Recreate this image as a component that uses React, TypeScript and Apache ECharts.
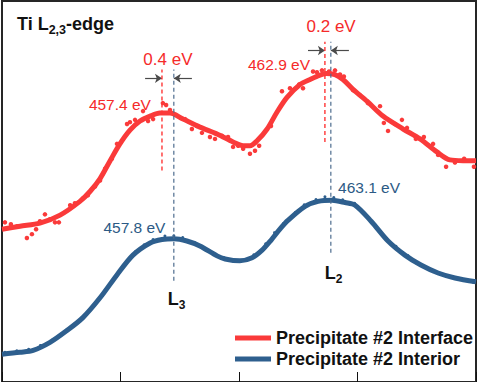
import { useEffect, useRef } from 'react';
import * as echarts from 'echarts';

const FONT = '"Liberation Sans", Arial, Helvetica, sans-serif';
const RED = '#fa3a3a';
const BLUE = '#2e5f8e';
const RED_TEXT = '#f52a2a';
const BLUE_TEXT = '#2c5a85';

const seriesNames = ['Precipitate #2 Interface', 'Precipitate #2 Interior'];

// Energy axis (eV)
const xMin = 452;
const xMax = 468;
const xInterval = 4;

// Interface (red) fitted curve
const interfaceFitE = [452.0, 452.61, 453.28, 453.96, 454.63, 454.97, 455.31, 455.65, 455.98, 456.32, 456.66, 457.0, 457.33, 457.67, 458.11, 458.68, 459.26, 459.8, 460.14, 460.37, 460.61, 460.95, 461.28, 461.62, 462.06, 462.4, 462.63, 462.94, 463.24, 463.51, 463.85, 464.32, 464.86, 465.54, 466.11, 466.68, 467.12, 467.56, 468.0];
const interfaceFitI = [40.1, 40.9, 41.7, 43.8, 47.4, 50.0, 53.4, 58.1, 62.5, 66.1, 68.5, 69.8, 70.6, 70.6, 69.0, 66.9, 65.1, 63.0, 62.0, 62.0, 63.3, 66.4, 70.8, 74.7, 78.1, 79.4, 80.2, 81.0, 80.7, 79.4, 76.8, 73.7, 69.8, 66.4, 63.8, 60.4, 58.3, 58.1, 58.1];

// Interface (red) measured points
const interfaceDotE = [452.1, 452.3, 452.51, 452.84, 453.01, 453.15, 453.28, 453.45, 453.62, 453.79, 453.92, 454.3, 454.46, 454.73, 454.9, 455.14, 455.31, 455.48, 455.71, 455.88, 456.22, 456.32, 456.49, 456.76, 456.93, 457.1, 457.43, 457.54, 457.67, 458.18, 458.41, 458.58, 458.75, 459.02, 459.19, 459.43, 459.63, 459.8, 459.97, 460.14, 460.37, 460.54, 460.68, 461.08, 461.45, 461.72, 462.03, 462.16, 462.5, 462.63, 462.8, 463.04, 463.24, 463.41, 463.54, 463.85, 464.08, 464.35, 464.76, 464.89, 465.03, 465.27, 465.5, 465.67, 465.97, 466.24, 466.55, 466.72, 466.99, 467.29, 467.6, 467.93];
const interfaceDotI = [41.9, 41.4, 40.9, 37.8, 38.8, 40.1, 42.2, 44.0, 42.7, 41.9, 41.9, 46.4, 46.9, 48.2, 49.0, 51.3, 52.9, 56.0, 58.6, 62.5, 67.7, 68.2, 68.8, 71.1, 68.5, 69.0, 73.2, 72.7, 71.4, 69.0, 66.4, 67.2, 65.4, 64.3, 63.8, 64.6, 64.3, 61.7, 62.0, 61.2, 59.9, 60.7, 62.0, 67.2, 76.3, 77.1, 78.1, 77.1, 81.5, 81.3, 81.8, 81.5, 81.8, 80.7, 80.2, 76.6, 75.3, 73.2, 72.4, 68.0, 65.9, 67.7, 68.8, 66.7, 63.8, 64.3, 62.5, 59.6, 56.5, 57.6, 58.6, 56.5];

// Interior (blue) fitted curve
const interiorFitE = [452.0, 452.61, 453.05, 453.62, 454.19, 454.73, 455.31, 455.88, 456.42, 457.0, 457.4, 457.81, 458.24, 458.68, 459.26, 459.53, 460.03, 460.44, 460.78, 461.08, 461.38, 461.65, 462.23, 462.67, 463.14, 463.58, 463.92, 464.46, 465.03, 465.6, 466.14, 466.72, 467.29, 468.0];
const interiorFitI = [7.3, 7.8, 8.3, 10.4, 13.5, 16.9, 22.1, 28.1, 33.3, 36.5, 37.4, 37.6, 37.0, 35.7, 33.1, 32.3, 31.8, 32.6, 34.6, 37.2, 40.1, 42.4, 46.1, 47.4, 47.7, 47.1, 46.4, 42.2, 37.0, 33.3, 30.7, 28.6, 27.3, 26.3];

// Interior (blue) measured points
const interiorDotE = [452.1, 452.5, 452.9, 453.3, 453.7, 454.0, 454.4, 454.8, 455.1, 455.5, 455.8, 456.1, 456.5, 456.8, 457.1, 457.5, 457.8, 458.1, 458.5, 458.8, 459.1, 459.5, 459.9, 460.2, 460.5, 460.9, 461.2, 461.5, 461.9, 462.2, 462.6, 462.9, 463.2, 463.5, 463.9, 464.2, 464.6, 464.9, 465.3, 465.7, 466.0, 466.4, 466.8, 467.2, 467.6, 467.9];
const interiorDotI = [7.8, 8.2, 8.6, 9.6, 11.0, 12.6, 14.9, 17.6, 20.0, 24.2, 27.4, 30.6, 34.2, 36.0, 37.4, 38.3, 38.4, 37.9, 36.6, 35.0, 33.8, 32.6, 31.9, 32.1, 33.4, 36.3, 39.2, 41.6, 44.5, 46.5, 47.9, 48.6, 48.4, 47.8, 46.9, 44.3, 41.2, 38.1, 35.6, 33.2, 31.2, 29.8, 28.3, 27.6, 26.8, 26.2];

// Peak markers (dashed verticals): energy, from, to
const interfacePeakE = [457.4, 462.9];
const interfacePeakFrom = [55.5, 63.0];
const interfacePeakTo = [82.0, 89.3];
const interiorPeakE = [457.8, 463.1];
const interiorPeakFrom = [26.6, 33.9];
const interiorPeakTo = [82.0, 89.3];

// Shift annotations
const shiftLabels = ['0.4 eV', '0.2 eV'];
const shiftLabelE = [457.6, 463.11];
const shiftLabelI = [84.6, 93.2];
const arrowI = [79.7, 87.0];
const arrowLeftStartE = [456.83, 462.33];
const arrowRightStartE = [458.41, 463.71];

// Peak energy labels
const interfaceLabels = ['457.4 eV', '462.9 eV'];
const interfaceLabelE = [455.98, 461.35];
const interfaceLabelI = [72.7, 83.1];
const interiorLabels = ['457.8 eV', '463.1 eV'];
const interiorLabelE = [456.47, 464.39];
const interiorLabelI = [40.4, 51.0];

// Edge labels
const edgeLabels = ['3', '2'];
const edgeLabelE = [457.89, 463.19];
const edgeLabelI = [21.6, 28.5];

const zip = (a: number[], b: number[]) => a.map((v, i) => [v, b[i]]);

const centered = {
  show: true,
  position: 'top',
  distance: 0,
  align: 'center',
  verticalAlign: 'middle',
  textBorderWidth: 0,
  textShadowBlur: 0,
  opacity: 1,
};

export default function App() {
  const ref = useRef<HTMLDivElement>(null);

  useEffect(() => {
    document.body.style.margin = '0';
    const chart = echarts.init(ref.current!, undefined, { renderer: 'svg' });

    const dashed: any[] = [];
    interfacePeakE.forEach((e, i) => {
      dashed.push({
        type: 'line', silent: true, symbol: 'none', z: 5,
        data: [[e, interfacePeakFrom[i]], [e, interfacePeakTo[i]]],
        lineStyle: { color: '#ff3535', width: 1.4, type: [4, 3] },
      });
    });
    interiorPeakE.forEach((e, i) => {
      dashed.push({
        type: 'line', silent: true, symbol: 'none', z: 5,
        data: [[e, interiorPeakFrom[i]], [e, interiorPeakTo[i]]],
        lineStyle: { color: '#4d6c8e', width: 1.2, type: [4, 3] },
      });
    });

    const arrows = {
      type: 'line', silent: true, data: [], z: 6,
      markLine: {
        silent: true, symbol: ['none', 'arrow'], symbolSize: 7,
        label: { show: false },
        lineStyle: { color: '#4a4a4a', width: 1.2, type: 'solid' },
        data: interfacePeakE.flatMap((e, i) => [
          [{ coord: [arrowLeftStartE[i], arrowI[i]] }, { coord: [e, arrowI[i]] }],
          [{ coord: [arrowRightStartE[i], arrowI[i]] }, { coord: [interiorPeakE[i], arrowI[i]] }],
        ]),
      },
    };

    const textSeries = (labels: string[], es: number[], is: number[], color: string, fontSize: number) => ({
      type: 'scatter', silent: true, symbolSize: 1, z: 10,
      itemStyle: { color: 'rgba(0,0,0,0)', opacity: 1 },
      data: labels.map((t, i) => ({ value: [es[i], is[i]], name: t })),
      label: { ...centered, formatter: '{b}', color, fontSize, fontFamily: FONT },
    });

    const edgeSeries = {
      type: 'scatter', silent: true, symbolSize: 1, z: 10,
      itemStyle: { color: 'rgba(0,0,0,0)', opacity: 1 },
      data: edgeLabels.map((t, i) => ({ value: [edgeLabelE[i], edgeLabelI[i]], name: t })),
      label: {
        ...centered,
        color: '#111',
        formatter: (p: any) => `{l|L}{s|${p.name}}`,
        rich: {
          l: { fontSize: 18, fontWeight: 'bold', color: '#111', fontFamily: FONT, lineHeight: 24 },
          s: { fontSize: 12, fontWeight: 'bold', color: '#111', fontFamily: FONT, lineHeight: 12, verticalAlign: 'bottom' },
        },
      },
    };

    chart.setOption({
      animation: false,
      title: {
        text: '{a|Ti L}{s|2,3}{a|-edge}',
        left: 12, top: 7,
        textStyle: {
          rich: {
            a: { fontSize: 18, fontWeight: 'bold', color: '#111', fontFamily: FONT, lineHeight: 24 },
            s: { fontSize: 12.5, fontWeight: 'bold', color: '#111', fontFamily: FONT, lineHeight: 12, verticalAlign: 'bottom' },
          },
        },
      },
      legend: {
        orient: 'vertical', left: 230, top: 323,
        itemWidth: 36, itemHeight: 5, itemGap: 1, icon: 'rect',
        selectedMode: false,
        textStyle: { fontSize: 18, fontWeight: 'bold', color: '#111', fontFamily: FONT, lineHeight: 20 },
        data: seriesNames,
      },
      grid: {
        left: 2, right: 2, top: 1, bottom: -3,
        show: true, borderColor: '#262626', borderWidth: 2, backgroundColor: '#fff',
      },
      xAxis: {
        type: 'value', min: xMin, max: xMax, interval: xInterval,
        axisLine: { show: false },
        axisTick: { show: true, inside: true, length: 10, lineStyle: { color: '#111', width: 1 } },
        axisLabel: { show: false },
        splitLine: { show: false },
      },
      yAxis: {
        type: 'value', min: 0, max: 100, show: false, splitLine: { show: false },
      },
      series: [
        {
          name: seriesNames[0], type: 'line', smooth: 0.3, symbol: 'none', color: RED,
          data: zip(interfaceFitE, interfaceFitI),
          lineStyle: { color: RED, width: 5 }, z: 2,
        },
        {
          name: seriesNames[0] + ' data', type: 'scatter', symbolSize: 4.5, color: RED,
          itemStyle: { color: RED, opacity: 1 }, data: zip(interfaceDotE, interfaceDotI), z: 3,
        },
        {
          name: seriesNames[1], type: 'line', smooth: 0.3, symbol: 'none', color: BLUE,
          data: zip(interiorFitE, interiorFitI),
          lineStyle: { color: BLUE, width: 5 }, z: 2,
        },
        {
          name: seriesNames[1] + ' data', type: 'scatter', symbolSize: 3, color: BLUE,
          itemStyle: { color: BLUE, opacity: 1 }, data: zip(interiorDotE, interiorDotI), z: 3,
        },
        ...dashed,
        arrows,
        textSeries(shiftLabels, shiftLabelE, shiftLabelI, RED_TEXT, 17),
        textSeries(interfaceLabels, interfaceLabelE, interfaceLabelI, RED_TEXT, 15.5),
        textSeries(interiorLabels, interiorLabelE, interiorLabelI, BLUE_TEXT, 15.5),
        edgeSeries,
      ],
    });

    return () => chart.dispose();
  }, []);

  return (
    <div
      ref={ref}
      style={{ position: 'absolute', left: 0, top: 0, width: 478, height: 382 }}
    />
  );
}
